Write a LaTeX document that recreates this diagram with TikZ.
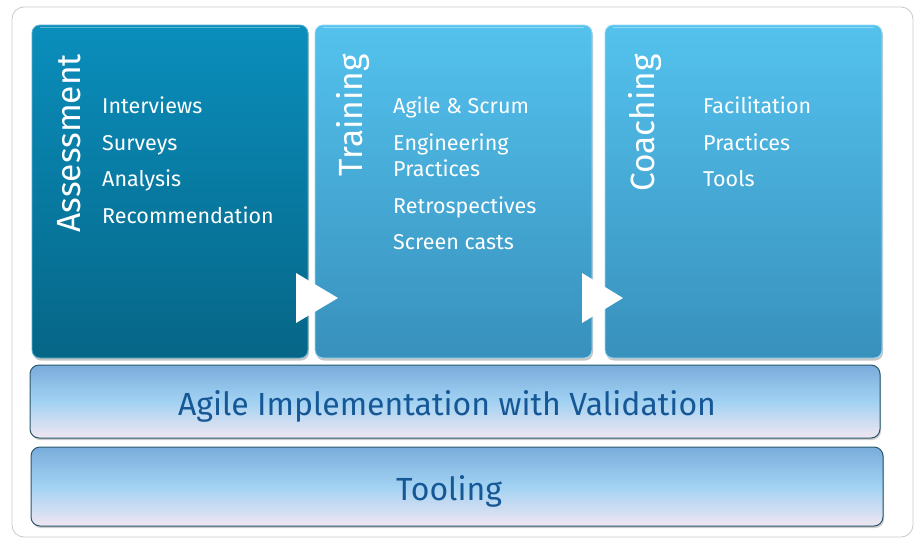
\documentclass[tikz,border=0pt]{standalone}
\usepackage{fontspec}
\setmainfont{Fira Sans}
\usetikzlibrary{shadows}
\definecolor{aTop}{RGB}{10,142,188}
\definecolor{aBot}{RGB}{6,102,135}
\definecolor{bTop}{RGB}{84,194,238}
\definecolor{bBot}{RGB}{56,144,188}
\definecolor{barTop}{RGB}{122,172,220}
\definecolor{barMid}{RGB}{162,210,242}
\definecolor{barBot}{RGB}{240,230,242}
\definecolor{barLine}{RGB}{42,88,108}
\definecolor{barText}{RGB}{22,88,150}
\definecolor{frameCol}{RGB}{200,200,200}
\begin{document}
\begin{tikzpicture}[x=1pt,y=-1pt,
  panel/.style={rounded corners=8pt, draw=#1, line width=0.8pt, inner sep=0,
    drop shadow={opacity=0.45, shadow xshift=1pt, shadow yshift=-2.5pt}},
  darkpanel/.style={panel=aTop!70!white, top color=aTop, bottom color=aBot,
    minimum width=276pt, minimum height=333pt},
  lightpanel/.style={panel=bTop!60!white, top color=bTop, bottom color=bBot,
    minimum width=277pt, minimum height=333pt},
  bar/.style={rounded corners=9pt, draw=barLine, line width=1pt, inner sep=0,
    top color=barTop, bottom color=barBot, middle color=barMid,
    drop shadow={opacity=0.4, shadow xshift=1pt, shadow yshift=-2pt}},
  title/.style={text=white, font=\fontsize{33.5}{38}\selectfont, inner sep=0,
    rotate=90, anchor=base east},
  item/.style={text=white, font=\fontsize{21.5}{24}\selectfont, inner sep=0, anchor=base west},
  bartext/.style={text=barText, font=\fontsize{32}{36}\selectfont, inner sep=0, anchor=base},
  gloss/.style={white, opacity=0.35, line width=1.5pt, line cap=round}
]
\useasboundingbox (0,0) rectangle (916,539);
\draw[frameCol, line width=0.8pt, rounded corners=12pt] (12,7) rectangle (913,537);

% panels
\node[darkpanel] (assess) at (170,191.5) {};
\node[lightpanel] (train) at (453.5,191.5) {};
\node[lightpanel] (coach) at (743.5,191.5) {};
\foreach \n in {assess,train,coach}{
  \draw[gloss] ([xshift=9pt,yshift=-3pt]\n.north west) -- ([xshift=-9pt,yshift=-3pt]\n.north east);
}

% arrows
\fill[white] (296,273) -- (296,323) -- (338,298) -- cycle;
\fill[white] (582,273) -- (582,323) -- (623,298) -- cycle;

% titles
\node[title] (tA) at (80,54) {Assessment};
\node[title] (tT) at (362,54) {Training};
\node[title] (tC) at (654,54) {Coaching};

% items
\node[item] (a1) at (102,113) {Interviews};
\node[item] (a2) at (102,150) {Surveys};
\node[item] (a3) at (102,186) {Analysis};
\node[item] (a4) at (102,223) {Recommendation};

\node[item] (t1) at (393,113) {Agile \& Scrum};
\node[item] (t2) at (393,150) {Engineering};
\node[item] (t2b) at (393,176) {Practices};
\node[item] (t3) at (393,213) {Retrospectives};
\node[item] (t4) at (393,249) {Screen casts};

\node[item] (c1) at (703,113) {Facilitation};
\node[item] (c2) at (703,150) {Practices};
\node[item] (c3) at (703,186) {Tools};

% bars
\node[bar, minimum width=850pt, minimum height=73pt] (impl) at (455,401.5) {};
\node[bar, minimum width=852pt, minimum height=79pt] (tool) at (457,486.5) {};
\node[bartext] (implt) at (447,415) {Agile Implementation with Validation};
\node[bartext] (toolt) at (449,500) {Tooling};
\end{tikzpicture}
\end{document}
